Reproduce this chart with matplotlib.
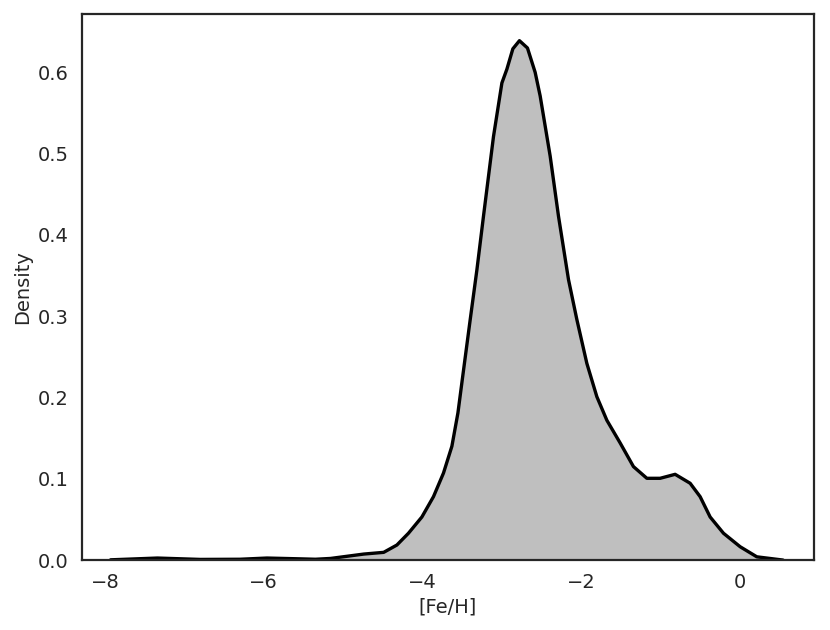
import numpy as np
import matplotlib
matplotlib.use('Agg')
import matplotlib.pyplot as plt
import seaborn as sns

# density curve ([Fe/H] vs density)
feh = [-7.93, -7.34, -6.80, -6.30, -5.96, -5.54, -5.35, -5.16, -4.74, -4.49,
       -4.324, -4.178, -4.009, -3.863, -3.737, -3.631, -3.555, -3.50, -3.40, -3.316,
       -3.233, -3.107, -3.001, -2.938, -2.863, -2.780, -2.679, -2.582, -2.519, -2.393,
       -2.288, -2.162, -2.057, -1.931, -1.805, -1.679, -1.511, -1.344, -1.175, -1.008,
       -0.819, -0.63, -0.504, -0.378, -0.21, 0.0, 0.21, 0.416, 0.54]
density = [0.0003, 0.0025, 0.0008, 0.001, 0.0025, 0.0015, 0.001, 0.002, 0.0074, 0.0095,
           0.0185, 0.033, 0.053, 0.078, 0.107, 0.140, 0.181, 0.222, 0.296, 0.357,
           0.423, 0.521, 0.587, 0.604, 0.629, 0.639, 0.630, 0.600, 0.571, 0.497,
           0.423, 0.345, 0.296, 0.242, 0.201, 0.172, 0.144, 0.115, 0.1006, 0.1006,
           0.1055, 0.0945, 0.078, 0.053, 0.033, 0.0164, 0.004, 0.0015, 0.0]

sns.set_theme(style='white')
plt.rcParams['font.family'] = ['DejaVu Sans']

fig = plt.figure(figsize=(8.3, 6.3), dpi=100)
ax = fig.add_axes([0.0988, 0.111, 0.8819, 0.867])

ax.fill_between(feh, density, color='#bfbfbf', linewidth=0)
ax.plot(feh, density, color='black', linewidth=2.4)

ax.set_xlim(-8.29, 0.93)
ax.set_ylim(0, 0.672)
ax.set_xlabel('[Fe/H]', fontsize=14)
ax.set_ylabel('Density', fontsize=14)
ax.tick_params(labelsize=14)
for s in ax.spines.values():
    s.set_linewidth(1.6)
    s.set_color('.15')

fig.savefig('out.png', dpi=100)
